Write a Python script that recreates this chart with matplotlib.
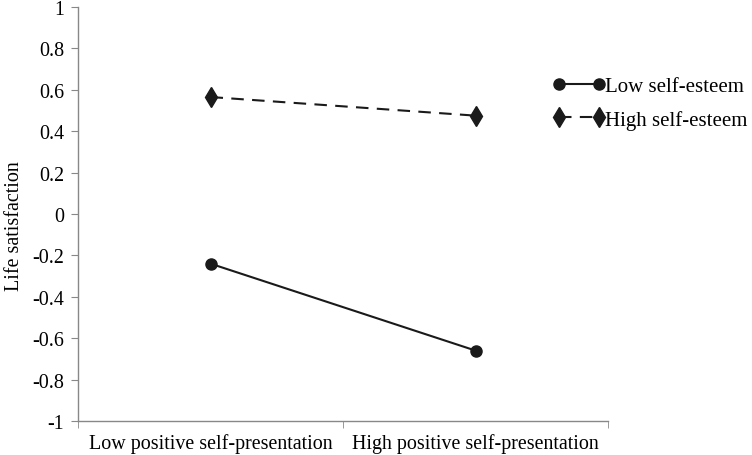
import numpy as np
import matplotlib.pyplot as plt

plt.rcParams['font.family'] = ['Liberation Serif', 'DejaVu Serif']

# datos
categorias = ["Low positive self-presentation", "High positive self-presentation"]
low_se = [-0.24, -0.66]    # Low self-esteem
high_se = [0.565, 0.475]   # High self-esteem
yticks = [-1, -0.8, -0.6, -0.4, -0.2, 0, 0.2, 0.4, 0.6, 0.8, 1]
ytick_labels = ["-1", "-0.8", "-0.6", "-0.4", "-0.2", "0", "0.2", "0.4", "0.6", "0.8", "1"]

fs = 14.4
fig = plt.figure(figsize=(7.52, 4.56), dpi=100)
ax = fig.add_axes([0.1037, 0.0746, 0.705, 0.9079])

x = np.arange(len(categorias))
ax.plot(x, low_se, '-', color='#1a1a1a', lw=1.5, marker='o', ms=8,
        label="Low self-esteem")
ax.plot(x, high_se, '--', color='#1a1a1a', lw=1.5, marker='d', ms=10.5,
        dashes=(6, 4), label="High self-esteem")

ax.set_xlim(-0.5, 1.5)
ax.set_ylim(-1, 1)
ax.set_yticks(yticks)
ax.set_yticklabels(ytick_labels)
ax.set_xticks(x)
ax.set_xticklabels(categorias)
ax.set_xticks([-0.5, 0.5, 1.5], minor=True)
ax.tick_params(axis='x', which='major', length=0, pad=9, labelsize=fs)
ax.tick_params(axis='x', which='minor', length=5, direction='out', color='#888888')
ax.tick_params(axis='y', length=5, direction='out', color='#888888', labelsize=fs, pad=5)
ax.set_ylabel("Life satisfaction", fontsize=fs, va='center')
ax.yaxis.set_label_coords(-0.12, 0.473)

for s in ['top', 'right']:
    ax.spines[s].set_visible(False)
for s in ['left', 'bottom']:
    ax.spines[s].set_color('#888888')
    ax.spines[s].set_linewidth(1)

ax.legend(loc='upper left', bbox_to_anchor=(553 / 752, 0.83),
          bbox_transform=fig.transFigure, frameon=False,
          numpoints=2, handlelength=2.5, handletextpad=0.0, fontsize=15,
          labelspacing=0.65, borderaxespad=0, borderpad=0)

fig.savefig("out.png", dpi=100)
